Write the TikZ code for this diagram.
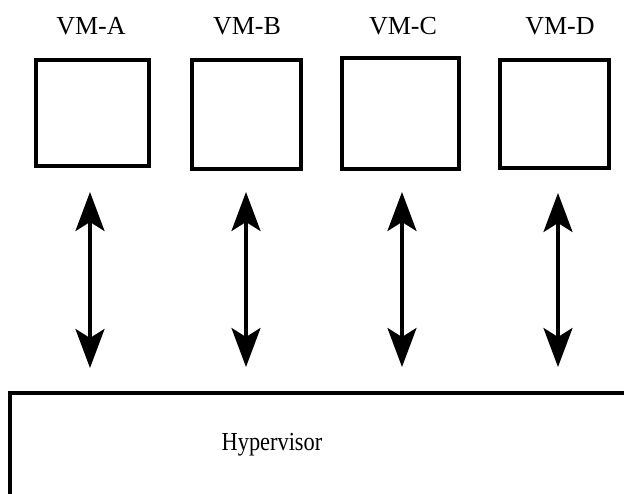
\documentclass[tikz,border=0pt]{standalone}
\usepackage{fontspec}
\setmainfont{Liberation Serif}
\usetikzlibrary{arrows.meta}
\begin{document}
\begin{tikzpicture}[x=1pt,y=-1pt,
  vmbox/.style={draw=black,line width=3.2pt,inner sep=0pt},
  vmlabel/.style={font=\fontsize{26}{30}\selectfont,inner sep=0pt,anchor=base},
  link/.style={line width=3.5pt,{Stealth[length=39pt,width=29pt,inset=9pt]}-{Stealth[length=39pt,width=29pt,inset=9pt]}}]
  \useasboundingbox (0,0) rectangle (624,494);
  \clip (0,0) rectangle (624,494);
  % VM boxes
  \node[vmbox,minimum width=113pt,minimum height=106pt] (vmA) at (92.5,113) {};
  \node[vmbox,minimum width=109pt,minimum height=109pt] (vmB) at (246.5,114.5) {};
  \node[vmbox,minimum width=117pt,minimum height=111pt] (vmC) at (400.5,113.5) {};
  \node[vmbox,minimum width=109pt,minimum height=108pt] (vmD) at (554.5,114) {};
  % labels
  \node[vmlabel] (lA) at (91,35) {VM-A};
  \node[vmlabel] (lB) at (247,35) {VM-B};
  \node[vmlabel] (lC) at (403,35) {VM-C};
  \node[vmlabel] (lD) at (560,35) {VM-D};
  % hypervisor layer (runs past the right and bottom edges)
  \draw[line width=3.5pt] (10,393) rectangle (640,510);
  \node[vmlabel] (hv) at (272,450) {\scalebox{0.86}[1]{Hypervisor}};
  % arrow ends
  \coordinate (aT) at (90,192);  \coordinate (aB) at (90,368);
  \coordinate (bT) at (246,192); \coordinate (bB) at (246,367);
  \coordinate (cT) at (402,192); \coordinate (cB) at (402,367);
  \coordinate (dT) at (558,193); \coordinate (dB) at (558,367);
  \draw[link] (aT) -- (aB);
  \draw[link] (bT) -- (bB);
  \draw[link] (cT) -- (cB);
  \draw[link] (dT) -- (dB);
\end{tikzpicture}
\end{document}
